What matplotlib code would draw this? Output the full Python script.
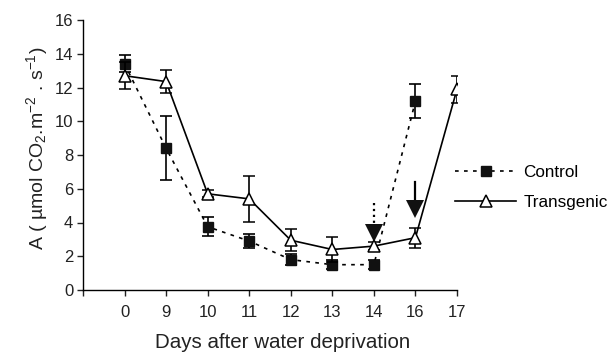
import matplotlib
matplotlib.use("Agg")
import matplotlib.pyplot as plt

plt.rcParams['font.family'] = ['Liberation Sans', 'DejaVu Sans']
plt.rcParams['mathtext.default'] = 'regular'

# data
days = ['0', '9', '10', '11', '12', '13', '14', '16', '17']
pos = list(range(1, len(days) + 1))

control = [13.4, 8.4, 3.75, 2.9, 1.8, 1.5, 1.5, 11.2]
control_err = [0.5, 1.9, 0.55, 0.42, 0.33, 0.25, 0.25, 1.02]

transgenic = [12.7, 12.35, 5.7, 5.4, 2.95, 2.4, 2.6, 3.1, 11.9]
transgenic_err = [0.8, 0.7, 0.2, 1.35, 0.65, 0.75, 0.24, 0.6, 0.8]

# arrows marking re-watering (day index, top of shaft, tip)
arrow_pos = [7, 8]
arrow_top = [5.15, 6.4]
arrow_tip = [2.85, 4.25]
arrow_style = [':', '-']

fig = plt.figure(figsize=(6.13, 3.56), dpi=100)
ax = fig.add_axes([0.1354, 0.1854, 0.6101, 0.7584])

c1 = ax.errorbar(pos[:len(control)], control, yerr=control_err, color='black',
                 linestyle=(0, (2.2, 3.2)), linewidth=1.2, marker='s', markersize=6.8,
                 markerfacecolor='#111111', markeredgecolor='#111111',
                 capsize=4.3, capthick=1.2, elinewidth=1.2, label='Control', zorder=3)
c2 = ax.errorbar(pos, transgenic, yerr=transgenic_err, color='black',
                 linestyle='-', linewidth=1.2, marker='^', markersize=8.5,
                 markerfacecolor='white', markeredgecolor='black', markeredgewidth=1.1,
                 capsize=4.3, capthick=1.2, elinewidth=1.2, label='Transgenic', zorder=4)

# arrows: shaft as line, head as filled triangle
head = 1.1
for p, top, tip, ls in zip(arrow_pos, arrow_top, arrow_tip, arrow_style):
    ax.plot([p, p], [top, tip + head * 0.5], color='black', linestyle=ls,
            linewidth=1.6, zorder=5)
    ax.plot([p], [tip + head / 2], marker='v', markersize=12.5,
            color='#111111', markeredgewidth=0, zorder=6)

ax.set_xlim(0, 9)
ax.set_ylim(0, 16)
ax.set_xticks(range(0, 10))
ax.set_xticklabels([''] + days)
ax.set_yticks(range(0, 17, 2))

for s in ['top', 'right']:
    ax.spines[s].set_visible(False)
for s in ['left', 'bottom']:
    ax.spines[s].set_linewidth(1.0)
ax.tick_params(direction='out', length=4, width=1.0, labelsize=12, colors='#222222')
ax.tick_params(axis='x', pad=7)
ax.tick_params(axis='y', pad=3)

ax.set_xlabel('Days after water deprivation', fontsize=14.8, labelpad=9, color='#222222')
ax.set_ylabel('A ( µmol CO$_{2}$.m$^{-2}$ . s$^{-1}$)', fontsize=14, labelpad=3,
              color='#222222')
ax.xaxis.label.set_x(0.535)
ax.yaxis.label.set_y(0.525)

fig.legend(handles=[c1[0], c2[0]], labels=['Control', 'Transgenic'],
           loc='center left', bbox_to_anchor=(0.742, 0.473), frameon=False,
           fontsize=12.3, handlelength=3.6, handletextpad=0.4, labelspacing=0.85,
           borderpad=0, borderaxespad=0)

fig.savefig('out.png', dpi=100)
